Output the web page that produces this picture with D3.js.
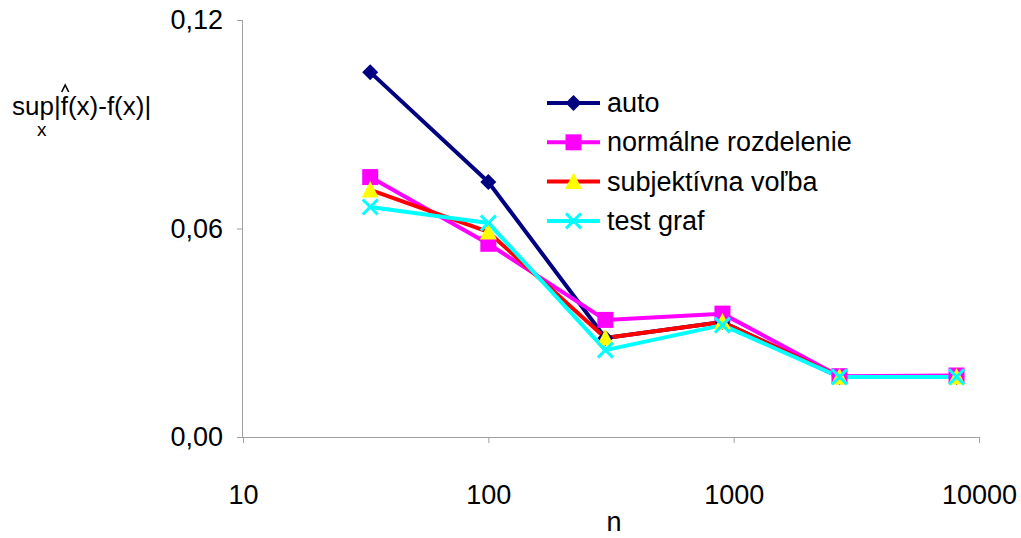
<!DOCTYPE html>
<html>
<head>
<meta charset="utf-8">
<script src="https://cdn.jsdelivr.net/npm/d3@7"></script>
<style>
  html, body { margin: 0; padding: 0; background: #fff; }
  svg { display: block; font-family: "Liberation Sans", Arial, sans-serif; }
</style>
</head>
<body>
<svg id="chart" width="1021" height="538"></svg>
<script>
// Sample sizes n (log scale)
const sampleSizes = [33, 100, 300, 900, 2700, 8100];

// Maximal deviation sup|f^(x) - f(x)| for each bandwidth selection method
const autoValues        = [0.1050, 0.0734, 0.0285, 0.0331, 0.0173, 0.0173];
const normalValues      = [0.0748, 0.0556, 0.0337, 0.0355, 0.0175, 0.0177];
const subjectiveValues  = [0.0711, 0.0590, 0.0285, 0.0331, 0.0173, 0.0173];
const testGraphValues   = [0.0662, 0.0616, 0.0250, 0.0322, 0.0173, 0.0173];

const seriesNames = ["auto", "normálne rozdelenie", "subjektívna voľba", "test graf"];

const xTickValues = [10, 100, 1000, 10000];
const yTickValues = [0, 0.06, 0.12];

const series = [
  { name: seriesNames[0], values: autoValues,       line: "#000080", fill: "#000080", marker: "diamond" },
  { name: seriesNames[1], values: normalValues,     line: "#ff00ff", fill: "#ff00ff", marker: "square" },
  { name: seriesNames[2], values: subjectiveValues, line: "#ff0000", fill: "#ffff00", marker: "triangle" },
  { name: seriesNames[3], values: testGraphValues,  line: "#00ffff", fill: "#00ffff", marker: "cross" }
];

const svg = d3.select("#chart");
const plotLeft = 243, plotRight = 979, plotTop = 20, plotBottom = 437;
const fontSize = 27;

const x = d3.scaleLog().domain([10, 10000]).range([plotLeft, plotRight]);
const y = d3.scaleLinear().domain([0, 0.12]).range([plotBottom, plotTop]);

const axisColor = "#a0a0a0";
const fmt = v => d3.format(".2f")(v).replace(".", ",");

// Y axis
const yAxis = svg.append("g")
  .attr("transform", `translate(${plotLeft},0)`)
  .call(d3.axisLeft(y).tickValues(yTickValues).tickSize(6).tickPadding(14).tickFormat(fmt));
yAxis.select(".domain").attr("stroke", axisColor).attr("d", `M-0.5,${plotTop}V${plotBottom}`);
yAxis.selectAll(".tick line").attr("stroke", axisColor);
yAxis.selectAll(".tick text").attr("font-size", fontSize).attr("fill", "#000")
  .attr("font-family", "Liberation Sans, Arial, sans-serif");

// X axis
const xAxis = svg.append("g")
  .attr("transform", `translate(0,${plotBottom})`)
  .call(d3.axisBottom(x).tickValues(xTickValues).tickSize(6).tickPadding(42).tickFormat(d3.format("d")));
xAxis.select(".domain").attr("stroke", axisColor).attr("d", `M${plotLeft},0.5H${plotRight}`);
xAxis.selectAll(".tick line").attr("stroke", axisColor);
xAxis.selectAll(".tick text").attr("font-size", fontSize).attr("fill", "#000")
  .attr("font-family", "Liberation Sans, Arial, sans-serif");

// X axis title
svg.append("text").attr("x", 614).attr("y", 531).attr("text-anchor", "middle")
  .attr("font-size", fontSize).text("n");

// Y axis title: sup over x of |f^(x) - f(x)|
const yt = svg.append("g").attr("font-size", 26);
const title = yt.append("text").attr("x", 12).attr("y", 115);
const supPart = title.append("tspan").text("sup|");
title.append("tspan").text("f(x)-f(x)|");
const supWidth = supPart.node().getComputedTextLength();
yt.append("text").attr("x", 37).attr("y", 136).attr("font-size", 19).text("x");
// hat accent over the estimated density f
const hatX = 12 + supWidth + 4.5;
yt.append("path")
  .attr("d", `M${hatX - 3.5},${92}L${hatX},${85}L${hatX + 3.5},${92}`)
  .attr("fill", "none").attr("stroke", "#000").attr("stroke-width", 1.6);

// Marker shapes
function markerPath(type) {
  switch (type) {
    case "diamond":  return "M0,-8L8,0L0,8L-8,0Z";
    case "square":   return "M-8,-8H8V8H-8Z";
    case "triangle": return "M0,-9L8.5,7.5L-8.5,7.5Z";
    case "cross":    return "M-7.5,-7.5L7.5,7.5M7.5,-7.5L-7.5,7.5";
  }
}
function drawMarker(g, s, cx, cy) {
  const p = g.append("path").attr("transform", `translate(${cx},${cy})`).attr("d", markerPath(s.marker));
  if (s.marker === "cross") p.attr("fill", "none").attr("stroke", s.fill).attr("stroke-width", 3);
  else p.attr("fill", s.fill).attr("stroke", "none");
}

const line = d3.line().x(d => x(d[0])).y(d => y(d[1]));
const plot = svg.append("g");
series.forEach(s => {
  const pts = sampleSizes.map((n, i) => [n, s.values[i]]);
  plot.append("path").datum(pts).attr("d", line)
    .attr("fill", "none").attr("stroke", s.line).attr("stroke-width", 4)
    .attr("stroke-linejoin", "round");
});
series.forEach(s => {
  sampleSizes.forEach((n, i) => drawMarker(plot, s, x(n), y(s.values[i])));
});

// Legend
const legend = svg.append("g");
series.forEach((s, i) => {
  const ly = 103 + i * 39.3;
  legend.append("line").attr("x1", 547).attr("x2", 600).attr("y1", ly).attr("y2", ly)
    .attr("stroke", s.line).attr("stroke-width", 4);
  drawMarker(legend, s, 573.5, ly);
  legend.append("text").attr("x", 607).attr("y", ly + 9).attr("font-size", fontSize).text(s.name);
});
</script>
</body>
</html>
